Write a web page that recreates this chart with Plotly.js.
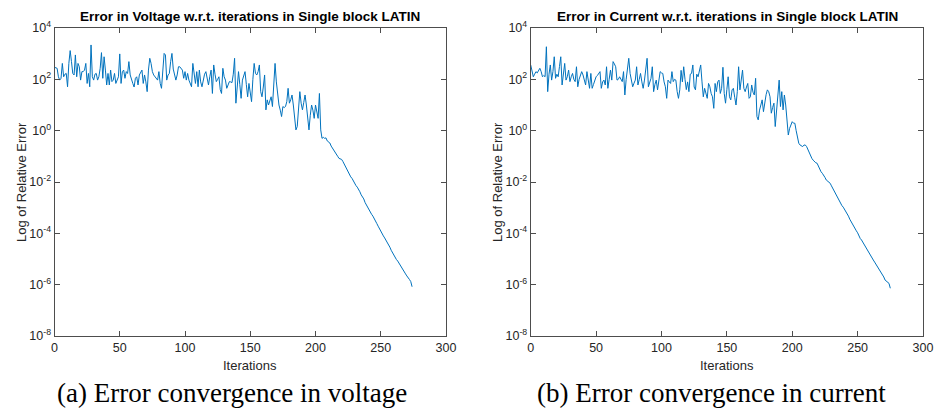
<!DOCTYPE html>
<html><head><meta charset="utf-8">
<script src="https://cdn.plot.ly/plotly-3.0.1.min.js"></script>
<style>html,body{margin:0;padding:0;background:#fff}#chart{width:935px;height:411px}</style>
</head><body><div id="chart"></div>
<script>
// log10 of relative error, one value per iteration (starting at 0)
const voltageLog10 = [
2.47,2.45,2.43,2.10,1.97,2.04,2.62,2.10,2.20,2.23,
1.71,2.62,3.12,2.69,2.23,2.17,2.95,2.10,2.62,2.49,
1.97,2.30,2.30,2.36,2.62,1.84,2.23,1.71,3.34,2.10,
1.97,2.20,2.23,1.97,2.10,2.43,3.04,2.04,2.88,2.36,
1.78,2.23,1.78,2.36,1.91,1.97,2.23,1.84,2.00,2.10,
2.99,1.84,2.30,2.36,2.04,2.30,2.23,2.69,2.17,1.97,
1.84,1.70,2.04,2.10,1.78,2.17,2.30,2.36,1.84,2.17,
1.90,1.52,2.36,2.82,2.62,2.30,2.17,2.10,2.04,1.97,
2.30,1.84,1.65,2.30,3.01,2.95,1.97,2.17,2.23,2.69,
3.01,2.40,2.10,1.97,2.17,2.49,2.49,2.40,2.36,2.04,
2.30,1.97,2.23,1.97,1.84,1.71,2.62,2.17,1.84,2.30,
1.71,2.36,1.90,1.71,2.00,2.20,2.30,2.00,1.78,2.10,
2.36,1.45,2.56,2.20,1.91,2.00,2.10,1.60,1.45,2.43,
2.10,1.97,1.65,1.78,1.91,1.90,1.87,2.20,2.82,1.07,
1.60,2.30,1.80,1.26,1.97,2.10,2.30,1.80,1.32,1.84,
1.50,1.13,2.00,2.62,2.23,2.17,2.30,2.56,1.52,1.32,
1.70,2.17,0.81,1.20,1.00,1.20,1.32,0.94,1.60,2.62,
1.90,1.32,1.00,0.80,0.55,0.94,0.90,0.94,1.13,1.65,
1.07,1.20,1.39,1.00,0.50,0.03,0.16,1.00,1.52,1.07,
0.81,1.10,1.39,1.00,0.50,0.03,0.60,1.00,0.80,0.48,
1.00,0.70,0.48,1.45,0.03,-0.30,-0.26,-0.30,-0.28,-0.40,
-0.43,-0.48,-0.60,-0.69,-0.76,-0.85,-0.92,-1.00,-1.08,-1.10,
-1.12,-1.20,-1.30,-1.40,-1.52,-1.65,-1.75,-1.80,-1.86,-1.95,
-2.08,-2.14,-2.20,-2.28,-2.38,-2.50,-2.58,-2.66,-2.80,-2.90,
-2.97,-3.06,-3.18,-3.26,-3.33,-3.45,-3.55,-3.62,-3.72,-3.83,
-3.90,-3.99,-4.10,-4.18,-4.26,-4.38,-4.47,-4.54,-4.66,-4.76,
-4.82,-4.92,-5.02,-5.08,-5.17,-5.27,-5.33,-5.42,-5.52,-5.58,
-5.66,-5.76,-5.80,-5.88,-6.08
];
const currentLog10 = [
2.56,2.30,2.10,2.20,2.30,2.25,2.35,2.43,2.30,2.10,
2.15,2.10,3.27,1.52,2.20,2.56,1.97,2.30,2.88,2.04,
2.20,2.10,2.50,2.88,1.78,2.20,2.62,1.97,2.10,2.36,
1.91,2.10,2.23,2.00,1.91,2.49,1.71,2.00,2.17,2.30,
2.17,1.95,1.78,2.30,1.90,1.65,2.23,1.65,1.80,1.97,
2.10,2.15,2.23,2.30,1.65,1.90,1.97,1.78,2.49,1.65,
2.00,2.36,1.97,2.69,2.60,2.49,1.97,2.00,2.10,2.00,
1.91,2.30,1.39,2.00,2.36,2.82,2.23,2.00,1.71,1.85,
1.97,2.49,1.78,2.00,2.23,1.90,1.65,1.97,2.30,2.82,
1.71,1.90,2.04,2.49,1.52,1.80,1.97,1.59,1.90,2.30,
2.25,2.23,1.90,1.71,1.26,1.97,1.90,1.84,2.30,1.91,
2.00,1.97,1.52,1.26,1.59,2.35,1.90,2.49,2.00,1.60,
1.90,1.52,2.20,2.23,2.56,1.70,1.59,2.20,2.10,2.30,
2.56,1.90,1.32,1.65,1.40,1.26,1.84,1.71,1.45,1.32,
0.87,1.84,1.52,1.90,1.97,1.45,1.65,2.47,1.45,1.07,
1.60,2.10,1.32,1.20,1.59,1.65,1.30,1.00,1.52,2.49,
1.59,2.00,2.36,1.65,1.52,1.70,1.84,1.26,1.32,1.78,
1.50,1.39,2.04,0.55,0.42,0.80,1.00,1.20,0.74,1.13,
1.40,1.59,1.52,1.32,0.68,0.90,1.07,0.16,0.81,1.40,
1.97,0.94,1.52,0.81,1.39,1.00,0.42,-0.17,0.09,0.20,
0.35,0.29,0.29,0.00,-0.30,-0.49,-0.56,-0.60,-0.62,-0.56,
-0.56,-0.62,-0.75,-0.88,-1.01,-1.08,-1.15,-1.21,-1.25,-1.27,
-1.40,-1.53,-1.60,-1.66,-1.73,-1.82,-1.92,-1.97,-2.02,-2.05,
-2.15,-2.25,-2.35,-2.45,-2.55,-2.62,-2.70,-2.82,-2.92,-2.98,
-3.06,-3.18,-3.26,-3.33,-3.45,-3.55,-3.60,-3.70,-3.82,-3.90,
-3.98,-4.10,-4.20,-4.26,-4.35,-4.46,-4.55,-4.62,-4.72,-4.82,
-4.88,-4.96,-5.04,-5.12,-5.20,-5.30,-5.38,-5.46,-5.56,-5.62,
-5.70,-5.82,-5.86,-5.90,-5.95,-6.14
];
const xTickVals = [0,50,100,150,200,250,300];
const yTickExponents = [-8,-6,-4,-2,0,2,4];
const titleVoltage = 'Error in Voltage w.r.t. iterations in Single block LATIN';
const titleCurrent = 'Error in Current w.r.t. iterations in Single block LATIN';
const yAxisLabel = 'Log of Relative Error';
const xAxisLabel = 'Iterations';
const captionVoltage = '(a) Error convergence in voltage';
const captionCurrent = '(b) Error convergence in current';

const lineColor = '#0072BD';
const sans = 'Liberation Sans, Arial, sans-serif';
const W = 935, H = 411;
const px = v => v / W, py = v => (H - v) / H;

const vx = voltageLog10.map((_, i) => i);
const vy = voltageLog10.map(e => Math.pow(10, e));
const cx = currentLog10.map((_, i) => i);
const cy = currentLog10.map(e => Math.pow(10, e));

const yTickVals = yTickExponents.map(e => Math.pow(10, e));
const yTickText = yTickExponents.map(e => '10<sup>' + e + '</sup>');

function xAxis(domain, anchor) {
  return {domain: domain, anchor: anchor, range: [0, 300], tickmode: 'array', tickvals: xTickVals,
    ticks: 'inside', ticklen: 5, tickcolor: '#4d4d4d', showline: true, mirror: 'ticks', linecolor: '#4d4d4d',
    linewidth: 1, showgrid: false, zeroline: false, tickfont: {family: sans, size: 12.5, color: '#262626'}};
}
function yAxis(domain, anchor) {
  return {domain: domain, anchor: anchor, type: 'log', range: [-8, 4], tickmode: 'array', tickvals: yTickVals,
    ticktext: yTickText, ticks: 'inside', ticklen: 5, tickcolor: '#4d4d4d', showline: true, mirror: 'ticks',
    linecolor: '#4d4d4d', linewidth: 1, showgrid: false, zeroline: false,
    tickfont: {family: sans, size: 12.5, color: '#262626'}};
}
const yDom = [py(336), py(28)];
const data = [
  {x: vx, y: vy, type: 'scatter', mode: 'lines', line: {color: lineColor, width: 1}, xaxis: 'x', yaxis: 'y', hoverinfo: 'skip'},
  {x: cx, y: cy, type: 'scatter', mode: 'lines', line: {color: lineColor, width: 1}, xaxis: 'x2', yaxis: 'y2', hoverinfo: 'skip'}
];
function ann(text, x, y, font, opts) {
  return Object.assign({text: text, x: x, y: y, xref: 'paper', yref: 'paper', xanchor: 'center', yanchor: 'middle',
    showarrow: false, font: font}, opts || {});
}
const titleFont = {family: sans, size: 13.5, color: '#000'};
const labelFont = {family: sans, size: 13, color: '#262626'};
const serif = {family: 'Liberation Serif, Times New Roman, serif', size: 27, color: '#000'};
const layout = {
  width: W, height: H, margin: {l: 0, r: 0, t: 0, b: 0}, paper_bgcolor: '#fff', plot_bgcolor: '#fff',
  showlegend: false,
  xaxis: xAxis([px(54.5), px(446)], 'y'),
  yaxis: yAxis(yDom, 'x'),
  xaxis2: xAxis([px(530.7), px(923)], 'y2'),
  yaxis2: yAxis(yDom, 'x2'),
  annotations: [
    ann('<b>' + titleVoltage + '</b>', px(250), py(17), titleFont),
    ann('<b>' + titleCurrent + '</b>', px(727), py(17), titleFont),
    ann(yAxisLabel, px(21), py(182), labelFont, {textangle: -90}),
    ann(yAxisLabel, px(497), py(182), labelFont, {textangle: -90}),
    ann(xAxisLabel, px(250), py(365), labelFont),
    ann(xAxisLabel, px(727), py(365), labelFont),
    ann(captionVoltage, px(232), py(393), serif),
    ann(captionCurrent, px(711), py(393), serif)
  ]
};
Plotly.newPlot('chart', data, layout, {staticPlot: true, displayModeBar: false});
</script>
</body></html>
